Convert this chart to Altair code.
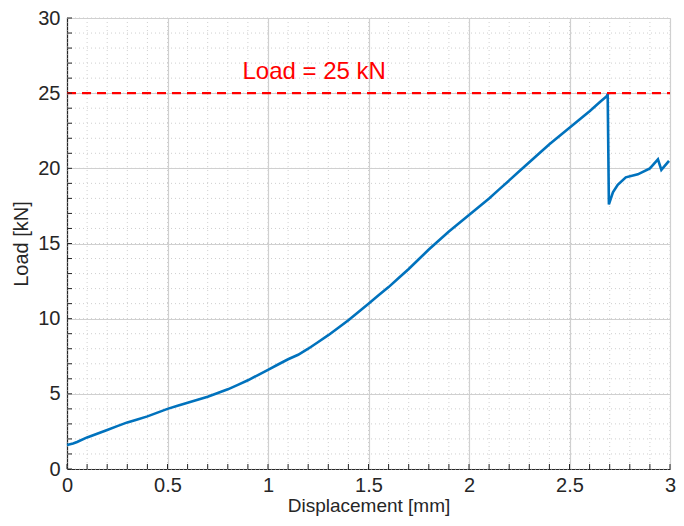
import altair as alt
import pandas as pd
import numpy as np

# Curve data (Displacement [mm], Load [kN])
disp = [0.00, 0.03, 0.05, 0.10, 0.15, 0.20, 0.25, 0.30, 0.35, 0.40, 0.45, 0.50,
        0.55, 0.60, 0.65, 0.70, 0.75, 0.80, 0.85, 0.90, 0.95, 1.00, 1.05, 1.10,
        1.15, 1.20, 1.25, 1.30, 1.35, 1.40, 1.45, 1.50, 1.55, 1.60, 1.65, 1.70,
        1.75, 1.80, 1.85, 1.90, 1.95, 2.00, 2.05, 2.10, 2.15, 2.20, 2.25, 2.30,
        2.35, 2.40, 2.45, 2.50, 2.55, 2.60, 2.65, 2.685, 2.69, 2.696, 2.716,
        2.74, 2.78, 2.84, 2.90, 2.94, 2.957, 2.995]
load = [1.6, 1.7, 1.8, 2.1, 2.35, 2.6, 2.85, 3.1, 3.3, 3.5, 3.75, 4.0,
        4.2, 4.4, 4.6, 4.8, 5.05, 5.3, 5.6, 5.9, 6.25, 6.6, 6.95, 7.3,
        7.6, 8.0, 8.45, 8.9, 9.4, 9.9, 10.45, 11.0, 11.55, 12.1, 12.7, 13.3,
        13.95, 14.6, 15.2, 15.8, 16.35, 16.9, 17.45, 18.0, 18.6, 19.2, 19.8, 20.4,
        21.0, 21.6, 22.15, 22.7, 23.25, 23.8, 24.4, 24.8, 24.95, 17.6, 18.4,
        18.9, 19.4, 19.6, 20.0, 20.6, 19.9, 20.5]

threshold = 25
annotation = "Load = 25 kN"

x_major = [0, 0.5, 1, 1.5, 2, 2.5, 3]
y_major = [0, 5, 10, 15, 20, 25, 30]
x_minor = [round(v, 1) for v in np.arange(0, 3.01, 0.1)]
y_minor = list(range(0, 31))

W, H = 603, 451
FONT = "Liberation Sans"
TXT = "#262626"

xs = alt.Scale(domain=[0, 3], nice=False, zero=False)
ys = alt.Scale(domain=[0, 30], nice=False, zero=False)

X_AX = alt.Axis(values=x_major, title="Displacement [mm]", format="~g",
                grid=True, gridColor="#d0d0d0", gridWidth=1.2,
                tickSize=0, labelPadding=6, labelFlush=False,
                titleBaseline="alphabetic", titleY=42, titleFontSize=19,
                domainColor="#262626", domainWidth=1.2)
Y_AX = alt.Axis(values=y_major, title="Load [kN]", format="~g",
                grid=True, gridColor="#d0d0d0", gridWidth=1.2,
                tickSize=0, labelPadding=7, titlePadding=6,
                domainColor="#262626", domainWidth=1.2)

curve_df = pd.DataFrame({"d": disp, "l": load})
xm_df = pd.DataFrame({"v": x_minor})
ym_df = pd.DataFrame({"v": y_minor})

grid_minor_x = alt.Chart(xm_df).mark_rule(color="#cfcfcf", strokeDash=[1, 3], strokeWidth=1).encode(
    x=alt.X("v:Q", scale=xs, axis=X_AX), y=alt.value(0), y2=alt.value(H))
grid_minor_y = alt.Chart(ym_df).mark_rule(color="#cfcfcf", strokeDash=[1, 3], strokeWidth=1).encode(
    y=alt.Y("v:Q", scale=ys, axis=Y_AX), x=alt.value(0), x2=alt.value(W))

ticks_x = alt.Chart(xm_df).mark_rule(color="#262626", strokeWidth=1).encode(
    x=alt.X("v:Q", scale=xs, axis=X_AX), y=alt.value(H), y2=alt.value(H - 5))
ticks_y = alt.Chart(ym_df).mark_rule(color="#262626", strokeWidth=1).encode(
    y=alt.Y("v:Q", scale=ys, axis=Y_AX), x=alt.value(0), x2=alt.value(5))

line = alt.Chart(curve_df).mark_line(color="#0072BD", strokeWidth=2.6).encode(
    x=alt.X("d:Q", scale=xs, axis=X_AX),
    y=alt.Y("l:Q", scale=ys, axis=Y_AX),
)

thr = alt.Chart(pd.DataFrame({"y": [threshold]})).mark_rule(
    color="#FF0000", strokeWidth=2.2, strokeDash=[9, 6]).encode(
    y=alt.Y("y:Q", scale=ys, axis=Y_AX), x=alt.value(0), x2=alt.value(W))

label = alt.Chart(pd.DataFrame({"t": [annotation]})).mark_text(
    color="#FF0000", fontSize=24, font=FONT, align="center", baseline="middle").encode(
    x=alt.datum(1.23, scale=xs, axis=X_AX), y=alt.datum(26.4, scale=ys, axis=Y_AX), text="t:N")

chart = alt.layer(grid_minor_x, grid_minor_y, line, thr, label, ticks_x, ticks_y).properties(
    width=W, height=H,
    autosize=alt.AutoSizeParams(type="none"),
    padding={"left": 59, "top": 10, "right": 6, "bottom": 47},
).configure_view(stroke=None).configure_axis(
    labelFont=FONT, titleFont=FONT, labelFontSize=20, titleFontSize=20,
    labelColor=TXT, titleColor=TXT, titleFontWeight="normal",
)

chart.save("out.html", embed_options={"renderer": "svg", "actions": False})
